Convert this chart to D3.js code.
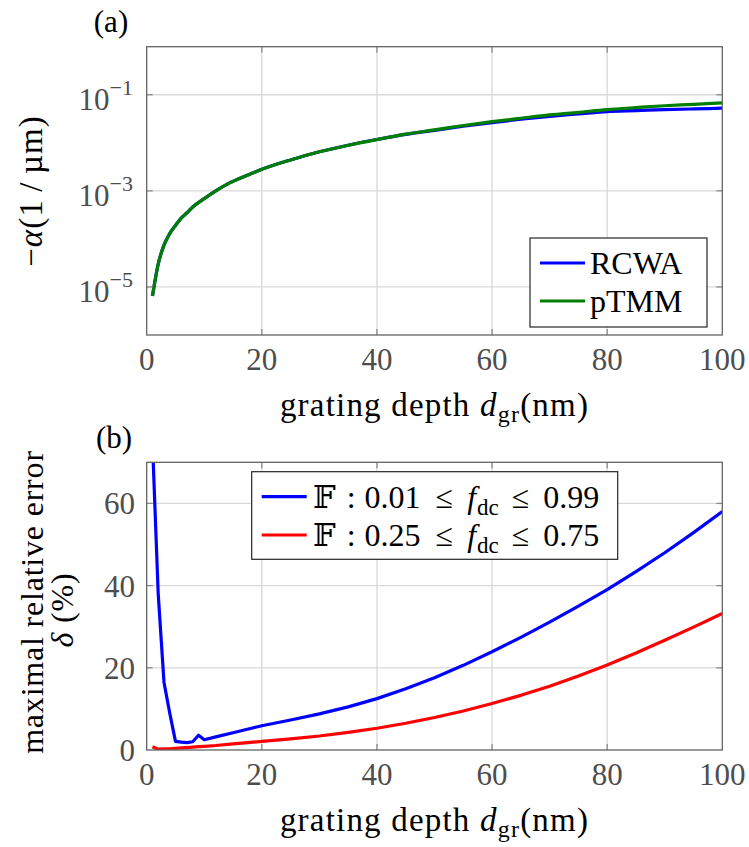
<!DOCTYPE html>
<html>
<head>
<meta charset="utf-8">
<script src="https://cdn.jsdelivr.net/npm/d3@7"></script>
<style>
  html, body { margin: 0; padding: 0; background: #fff; }
  svg text { font-family: "Liberation Serif", "DejaVu Serif", serif; }
</style>
</head>
<body>
<svg id="chart" width="749" height="847"></svg>
<script>
// ---------- data ----------
const xTickValues = [0, 20, 40, 60, 80, 100];

// panel (a): attenuation -alpha (1/um) vs grating depth (nm)
const depthA = [1, 2, 3, 4, 5, 6, 7, 8, 10, 12, 14, 16, 18, 20, 25, 30, 35, 40, 45, 50, 55, 60, 65, 70, 75, 80, 85, 90, 95, 100];
const alphaRCWA = [6.5e-6, 3.0e-5, 7.4e-5, 1.29e-4, 1.9e-4, 2.7e-4, 3.5e-4, 4.6e-4, 6.9e-4, 1.0e-3, 1.38e-3, 1.78e-3, 2.24e-3, 2.8e-3, 4.4e-3, 6.5e-3, 8.9e-3, 1.17e-2, 1.50e-2, 1.82e-2, 2.21e-2, 2.63e-2, 3.09e-2, 3.55e-2, 3.98e-2, 4.47e-2, 4.68e-2, 4.90e-2, 5.07e-2, 5.25e-2];
const alphaPTMM = [6.5e-6, 3.0e-5, 7.4e-5, 1.29e-4, 1.9e-4, 2.7e-4, 3.5e-4, 4.6e-4, 6.9e-4, 1.0e-3, 1.38e-3, 1.78e-3, 2.24e-3, 2.8e-3, 4.4e-3, 6.5e-3, 8.9e-3, 1.17e-2, 1.51e-2, 1.86e-2, 2.29e-2, 2.75e-2, 3.24e-2, 3.80e-2, 4.30e-2, 4.90e-2, 5.40e-2, 5.90e-2, 6.30e-2, 6.80e-2];
const yTicksA = [1e-5, 1e-3, 1e-1];
const yTickExpA = ["−5", "−3", "−1"];
const seriesNamesA = ["RCWA", "pTMM"];

// panel (b): maximal relative error (%) vs grating depth (nm)
const depthB = [1, 2, 3, 4, 5, 6, 7, 8, 9, 10, 12, 15, 20, 25, 30, 35, 40, 45, 50, 55, 60, 65, 70, 75, 80, 85, 90, 95, 100];
const errWide = [75, 38, 16.5, 9.0, 2.1, 1.9, 1.8, 2.0, 3.6, 2.5, 3.2, 4.2, 5.9, 7.3, 8.8, 10.5, 12.5, 14.9, 17.6, 20.6, 23.9, 27.4, 31.1, 35.0, 39.0, 43.4, 48.0, 52.9, 58.0];
const errNarrow = [0.8, 0.2, 0.25, 0.3, 0.4, 0.5, 0.6, 0.7, 0.8, 0.9, 1.1, 1.5, 2.1, 2.7, 3.4, 4.3, 5.3, 6.5, 7.9, 9.5, 11.3, 13.3, 15.5, 18.0, 20.7, 23.6, 26.7, 29.9, 33.2];
const yTicksB = [0, 20, 40, 60];
const legendRangesB = [["0.01", "0.99"], ["0.25", "0.75"]];

// ---------- styles ----------
const FS = 31;
const C = { blue: "#0000ff", green: "#007f00", red: "#ff0000", grid: "#d9d9d9", frame: "#646464", tick: "#8c8c8c", tickText: "#4d4d4d" };

const svg = d3.select("#chart");
const defs = svg.append("defs");
const L = 146.7, R = 722.3;
const xMid = (L + R) / 2;

function panel(top, bottom, yScale, yTicks, id) {
  const x = d3.scaleLinear().domain([0, 100]).range([L, R]);
  const g = svg.append("g");
  defs.append("clipPath").attr("id", id)
    .append("rect").attr("x", L).attr("y", top).attr("width", R - L).attr("height", bottom - top);
  g.append("g").selectAll("line").data(xTickValues.slice(1, -1)).join("line")
    .attr("x1", d => x(d)).attr("x2", d => x(d)).attr("y1", top).attr("y2", bottom)
    .attr("stroke", C.grid).attr("stroke-width", 1.3);
  g.append("g").selectAll("line").data(yTicks.filter(d => yScale(d) > top + 1 && yScale(d) < bottom - 1)).join("line")
    .attr("x1", L).attr("x2", R).attr("y1", d => yScale(d)).attr("y2", d => yScale(d))
    .attr("stroke", C.grid).attr("stroke-width", 1.3);
  return { x, g };
}

function ticksAndFrame(x, yScale, yTicks, top, bottom) {
  const tl = 6;
  const t = svg.append("g").attr("stroke", C.tick).attr("stroke-width", 1.3);
  xTickValues.slice(1, -1).forEach(v => {
    t.append("line").attr("x1", x(v)).attr("x2", x(v)).attr("y1", bottom).attr("y2", bottom - tl);
    t.append("line").attr("x1", x(v)).attr("x2", x(v)).attr("y1", top).attr("y2", top + tl);
  });
  yTicks.forEach(v => {
    const yy = yScale(v);
    if (yy <= top + 1 || yy >= bottom - 1) return;
    t.append("line").attr("x1", L).attr("x2", L + tl).attr("y1", yy).attr("y2", yy);
    t.append("line").attr("x1", R).attr("x2", R - tl).attr("y1", yy).attr("y2", yy);
  });
  svg.append("rect").attr("x", L).attr("y", top).attr("width", R - L).attr("height", bottom - top)
    .attr("fill", "none").attr("stroke", C.frame).attr("stroke-width", 1.3);
  svg.append("g").selectAll("text").data(xTickValues).join("text")
    .attr("x", d => x(d)).attr("y", bottom + 35).attr("text-anchor", "middle")
    .attr("font-size", FS).attr("fill", C.tickText).text(d => d);
}

function xLabel(baseline) {
  const t = svg.append("text").attr("x", xMid).attr("y", baseline).attr("text-anchor", "middle")
    .attr("font-size", 33).attr("letter-spacing", 1.2).attr("fill", "#000");
  t.append("tspan").text("grating depth ");
  t.append("tspan").attr("font-style", "italic").text("d");
  t.append("tspan").attr("font-size", 24).attr("dy", 6).text("gr");
  t.append("tspan").attr("dy", -6).text("(nm)");
}

function legendBox(x0, y0, w, h) {
  svg.append("rect").attr("x", x0).attr("y", y0).attr("width", w).attr("height", h)
    .attr("fill", "#fff").attr("stroke", "#262626").attr("stroke-width", 1.2);
}
function legendLine(x0, y, color) {
  svg.append("line").attr("x1", x0 + 10).attr("x2", x0 + 55).attr("y1", y).attr("y2", y)
    .attr("stroke", color).attr("stroke-width", 3.2);
}

// ---------- panel (a) ----------
const topA = 46.7, botA = 335;
const yA = d3.scaleLog().domain([1e-6, 1]).range([botA, topA]);
const pA = panel(topA, botA, yA, yTicksA, "clipA");
const lineA = d3.line().x((d, i) => pA.x(depthA[i])).y(d => yA(d)).curve(d3.curveMonotoneX);
const plotA = svg.append("g").attr("clip-path", "url(#clipA)");
plotA.append("path").datum(alphaRCWA).attr("d", lineA).attr("fill", "none").attr("stroke", C.blue).attr("stroke-width", 3.2);
plotA.append("path").datum(alphaPTMM).attr("d", lineA).attr("fill", "none").attr("stroke", C.green).attr("stroke-width", 3.2);
ticksAndFrame(pA.x, yA, yTicksA, topA, botA);
yTicksA.forEach((v, i) => {
  const t = svg.append("text").attr("x", 133).attr("y", yA(v) + 15).attr("text-anchor", "end")
    .attr("font-size", FS).attr("fill", C.tickText);
  t.append("tspan").text("10");
  t.append("tspan").attr("font-size", 22).attr("dy", -15).text(yTickExpA[i]);
});
{
  const t = svg.append("text").attr("transform", "translate(42,191) rotate(-90)").attr("text-anchor", "middle")
    .attr("font-size", 33).attr("letter-spacing", 1).attr("fill", "#000");
  t.append("tspan").text("−");
  t.append("tspan").attr("font-style", "italic").text("α");
  t.append("tspan").text("(1\u2009/\u2009µm)");
}
xLabel(416);
svg.append("text").attr("x", 111).attr("y", 32).attr("text-anchor", "middle").attr("font-size", 31).attr("fill", "#000").text("(a)");
legendBox(530, 238, 177, 89);
[[263, C.blue], [301, C.green]].forEach(([y, col], i) => {
  legendLine(530, y, col);
  svg.append("text").attr("x", 590).attr("y", y + 11).attr("font-size", 32).attr("fill", "#000").text(seriesNamesA[i]);
});

// ---------- panel (b) ----------
const topB = 462.3, botB = 750;
const yB = d3.scaleLinear().domain([0, 70]).range([botB, topB]);
const pB = panel(topB, botB, yB, yTicksB, "clipB");
const lineB = d3.line().x((d, i) => pB.x(depthB[i])).y(d => yB(d));
const plotB = svg.append("g").attr("clip-path", "url(#clipB)");
plotB.append("path").datum(errWide).attr("d", lineB).attr("fill", "none").attr("stroke", C.blue).attr("stroke-width", 3.2).attr("stroke-linejoin", "round");
plotB.append("path").datum(errNarrow).attr("d", lineB).attr("fill", "none").attr("stroke", C.red).attr("stroke-width", 3.2).attr("stroke-linejoin", "round");
ticksAndFrame(pB.x, yB, yTicksB, topB, botB);
svg.append("g").selectAll("text").data(yTicksB).join("text")
  .attr("x", 135).attr("y", d => yB(d) + 11).attr("text-anchor", "end")
  .attr("font-size", FS).attr("fill", C.tickText).text(d => d);
svg.append("text").attr("transform", "translate(43,602) rotate(-90)").attr("text-anchor", "middle")
  .attr("font-size", 32).attr("letter-spacing", 0.8).attr("fill", "#000").text("maximal relative error");
{
  const t = svg.append("text").attr("transform", "translate(73,610) rotate(-90)").attr("text-anchor", "middle")
    .attr("font-size", 32).attr("letter-spacing", 0.8).attr("fill", "#000");
  t.append("tspan").attr("font-style", "italic").text("δ");
  t.append("tspan").text(" (%)");
}
xLabel(831);
svg.append("text").attr("x", 114).attr("y", 448).attr("text-anchor", "middle").attr("font-size", 31).attr("fill", "#000").text("(b)");

legendBox(251.7, 471.7, 366, 87.6);
[[496.7, C.blue], [535, C.red]].forEach(([y, col], i) => {
  legendLine(251.7, y, col);
  const [lo, hi] = legendRangesB[i];
  const pieces = [
    { s: "𝔽", gap: 11 },
    { s: ":", gap: 9 },
    { s: lo, gap: 15 },
    { s: "≤", gap: 14 },
    { s: "f", gap: 1, italic: true },
    { s: "dc", gap: 13, sub: true },
    { s: "≤", gap: 14 },
    { s: hi, gap: 0 }
  ];
  const t = svg.append("text").attr("y", y + 11).attr("font-size", 32).attr("fill", "#000");
  let cx = 313, prevSub = false;
  pieces.forEach(p => {
    const ts = t.append("tspan").attr("x", cx).text(p.s);
    if (p.italic) ts.attr("font-style", "italic");
    if (p.sub) ts.attr("font-size", 23).attr("dy", 7);
    else if (prevSub) ts.attr("dy", -7);
    prevSub = !!p.sub;
    cx += ts.node().getComputedTextLength() + p.gap;
  });
});
</script>
</body>
</html>
